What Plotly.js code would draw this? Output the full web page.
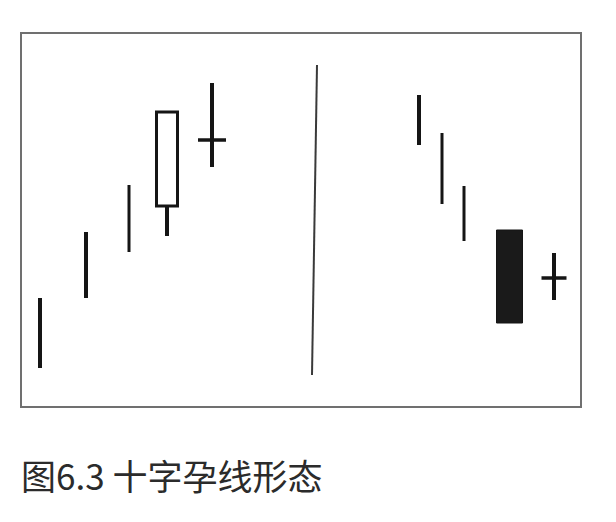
<!DOCTYPE html>
<html>
<head>
<meta charset="utf-8">
<script src="https://cdn.plot.ly/plotly-3.0.1.min.js"></script>
<style>html,body{margin:0;padding:0;background:#fff;}#chart{width:616px;height:522px;}</style>
</head>
<body>
<div id="chart"></div>
<script>
// Session positions (arbitrary time units) and prices (arbitrary units)
const sessions = [18, 64, 107, 145, 190, 397, 420, 442, 487.5, 532];
const highs    = [108, 174, 221, 294, 323, 311, 273, 220, 176, 153];
const lows     = [38, 108, 154, 170, 239, 261, 202, 165, 83, 106];
// null open/close = plain stick (no body shown)
const opens    = [null, null, null, 200, 266, null, null, null, 176, 128];
const closes   = [null, null, null, 294, 266, null, null, null, 83, 128];
const stickWidths = [4, 4, 3, 4, 4, 4, 3, 3, 4, 4];
// divider between the two patterns
const dividerX = [295, 290];
const dividerY = [341, 31];
const caption = "图6.3 十字孕线形态";

const traces = [];
const ink = '#151515';

// Bodies (real candles, open != close)
const bodyIdx = sessions.map((_, i) => i).filter(i => opens[i] !== null && opens[i] !== closes[i]);
bodyIdx.forEach(i => {
  const up = closes[i] > opens[i];
  traces.push({
    type: 'bar',
    x: [sessions[i]],
    base: [Math.min(opens[i], closes[i])],
    y: [Math.abs(closes[i] - opens[i])],
    width: [up ? 21 : 26],
    marker: {color: up ? '#ffffff' : '#1a1a1a', line: {color: ink, width: up ? 3 : 1}},
    hoverinfo: 'skip',
    showlegend: false
  });
});

// Wicks / sticks
sessions.forEach((s, i) => {
  let segs;
  if (opens[i] === null) {
    segs = [[lows[i], highs[i]]];
  } else {
    const lo = Math.min(opens[i], closes[i]), hi = Math.max(opens[i], closes[i]);
    segs = [];
    if (lows[i] < lo) segs.push([lows[i], lo]);
    if (highs[i] > hi) segs.push([hi, highs[i]]);
  }
  segs.forEach(sg => {
    traces.push({
      type: 'scatter', mode: 'lines',
      x: [s, s], y: sg,
      line: {color: ink, width: stickWidths[i]},
      hoverinfo: 'skip', showlegend: false
    });
  });
});

// Doji cross bars (horizontal tick at open == close)
sessions.forEach((s, i) => {
  if (opens[i] !== null && opens[i] === closes[i]) {
    const hw = i < 5 ? 14 : 12.5;
    traces.push({
      type: 'scatter', mode: 'lines',
      x: [s - hw, s + hw], y: [opens[i], closes[i]],
      line: {color: ink, width: 3.5},
      hoverinfo: 'skip', showlegend: false
    });
  }
});

// Divider
traces.push({
  type: 'scatter', mode: 'lines',
  x: dividerX, y: dividerY,
  line: {color: '#3a3a3a', width: 2},
  hoverinfo: 'skip', showlegend: false
});

const axisCommon = {
  showgrid: false, zeroline: false, showticklabels: false, ticks: '',
  showline: true, mirror: true, linecolor: '#707070', linewidth: 2, fixedrange: true
};

const layout = {
  width: 616, height: 522,
  margin: {l: 22, r: 36, t: 34, b: 116},
  paper_bgcolor: '#ffffff', plot_bgcolor: '#ffffff',
  barmode: 'overlay',
  xaxis: Object.assign({range: [0, 558]}, axisCommon),
  yaxis: Object.assign({range: [0, 372]}, axisCommon),
  annotations: [{
    text: caption, xref: 'paper', yref: 'paper',
    x: -0.005, y: -0.184, xanchor: 'left', yanchor: 'middle',
    showarrow: false,
    font: {family: '"Noto Sans CJK SC", "Noto Sans", sans-serif', size: 35, color: '#2b2b2b'}
  }]
};

Plotly.newPlot('chart', traces, layout, {staticPlot: true, displayModeBar: false});
</script>
</body>
</html>
